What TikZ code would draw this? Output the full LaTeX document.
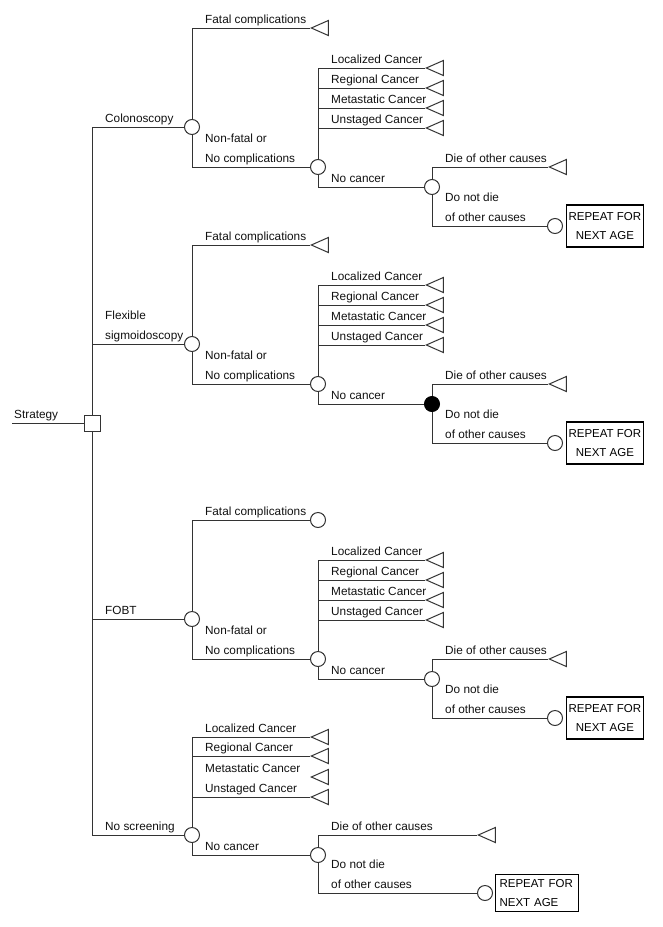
\documentclass[tikz,border=0pt]{standalone}
\usepackage{fontspec}
\setmainfont{Liberation Sans}
\usetikzlibrary{shapes.geometric,positioning}

\definecolor{treeLine}{HTML}{333333}
\definecolor{treeText}{HTML}{111111}

\tikzset{
    % Node types
    decision/.style={rectangle, draw=treeLine, fill=white, minimum size=16pt, inner sep=0pt, line width=1pt},
    chance/.style={circle, draw=treeLine, fill=white, minimum size=15pt, inner sep=0pt, line width=1pt},
    chanceFilled/.style={chance, fill=black, draw=black},
    terminal/.style={
        isosceles triangle,
        isosceles triangle stretches,
        shape border rotate=180,
        draw=treeLine,
        minimum width=15pt,
        minimum height=17pt,
        inner sep=0pt,
        line width=1pt,
        anchor=apex
    },
    repeatBox/.style={
        rectangle,
        draw=black,
        line width=1.2pt,
        minimum width=76pt,
        minimum height=42pt,
        align=center,
        inner sep=2pt,
        font=\fontsize{11.5}{19}\selectfont
    },
    repeatBoxWide/.style={repeatBox, text width=75pt, align=left, inner sep=4pt, minimum height=37pt},
    % Branch labels
    branchLabel/.style={anchor=base west, inner sep=0pt, align=left, text=treeText, font=\fontsize{11.8}{20}\selectfont},
    % Connectors
    branch/.style={draw=treeLine, line width=1pt}
}

\begin{document}
\begin{tikzpicture}[x=1pt, y=-1pt]
\useasboundingbox (0,0) rectangle (663,927);

% Root decision
\coordinate (start) at (12,423);
\node[decision] (strat) at (92,423) {};
\node[branchLabel] (stratLbl) at (14,418) {Strategy};
\draw[branch] (start) -- (strat);

% ---- Colonoscopy ----
\node[chance] (col) at (192,127) {};
\node[branchLabel] at (105,122) {Colonoscopy};
\node[terminal] (col-fatal) at (310,28) {};
\node[branchLabel] at (205,23) {Fatal complications};
\node[chance] (col-nf) at (318,167) {};
\node[branchLabel] at (205,162) {Non-fatal or\\No complications};
\node[terminal] (col-loc) at (425,68) {};
\node[terminal] (col-reg) at (425,88) {};
\node[terminal] (col-met) at (425,108) {};
\node[terminal] (col-uns) at (425,128) {};
\node[branchLabel] at (331,63) {Localized Cancer};
\node[branchLabel] at (331,83) {Regional Cancer};
\node[branchLabel] at (331,103) {Metastatic Cancer};
\node[branchLabel] at (331,123) {Unstaged Cancer};
\node[chance] (col-nc) at (432,187) {};
\node[branchLabel] at (331,182) {No cancer};
\node[terminal] (col-die) at (548,167) {};
\node[branchLabel] at (445,162) {Die of other causes};
\node[chance] (col-live) at (555,226) {};
\node[branchLabel] at (445,221) {Do not die\\of other causes};
\node[repeatBox, right=3pt of col-live] (col-rep) {REPEAT FOR\\NEXT AGE};

\draw[branch] (strat) |- (col);
\draw[branch] (col) |- (col-fatal.apex);
\draw[branch] (col) |- (col-nf);
\draw[branch] (col-nf) |- (col-loc.apex);
\draw[branch] (col-nf) |- (col-reg.apex);
\draw[branch] (col-nf) |- (col-met.apex);
\draw[branch] (col-nf) |- (col-uns.apex);
\draw[branch] (col-nf) |- (col-nc);
\draw[branch] (col-nc) |- (col-die.apex);
\draw[branch] (col-nc) |- (col-live);

% ---- Flexible sigmoidoscopy ----
\node[chance] (sig) at (192,344) {};
\node[branchLabel] at (105,339) {Flexible\\sigmoidoscopy};
\node[terminal] (sig-fatal) at (310,245) {};
\node[branchLabel] at (205,240) {Fatal complications};
\node[chance] (sig-nf) at (318,384) {};
\node[branchLabel] at (205,379) {Non-fatal or\\No complications};
\node[terminal] (sig-loc) at (425,285) {};
\node[terminal] (sig-reg) at (425,305) {};
\node[terminal] (sig-met) at (425,325) {};
\node[terminal] (sig-uns) at (425,345) {};
\node[branchLabel] at (331,280) {Localized Cancer};
\node[branchLabel] at (331,300) {Regional Cancer};
\node[branchLabel] at (331,320) {Metastatic Cancer};
\node[branchLabel] at (331,340) {Unstaged Cancer};
\node[chanceFilled] (sig-nc) at (432,404) {};
\node[branchLabel] at (331,399) {No cancer};
\node[terminal] (sig-die) at (548,384) {};
\node[branchLabel] at (445,379) {Die of other causes};
\node[chance] (sig-live) at (555,443) {};
\node[branchLabel] at (445,438) {Do not die\\of other causes};
\node[repeatBox, right=3pt of sig-live] (sig-rep) {REPEAT FOR\\NEXT AGE};

\draw[branch] (strat) |- (sig);
\draw[branch] (sig) |- (sig-fatal.apex);
\draw[branch] (sig) |- (sig-nf);
\draw[branch] (sig-nf) |- (sig-loc.apex);
\draw[branch] (sig-nf) |- (sig-reg.apex);
\draw[branch] (sig-nf) |- (sig-met.apex);
\draw[branch] (sig-nf) |- (sig-uns.apex);
\draw[branch] (sig-nf) |- (sig-nc);
\draw[branch] (sig-nc) |- (sig-die.apex);
\draw[branch] (sig-nc) |- (sig-live);

% ---- FOBT ----
\node[chance] (fobt) at (192,619) {};
\node[branchLabel] at (105,614) {FOBT};
\node[chance] (fobt-fatal) at (318,520) {};
\node[branchLabel] at (205,515) {Fatal complications};
\node[chance] (fobt-nf) at (318,659) {};
\node[branchLabel] at (205,654) {Non-fatal or\\No complications};
\node[terminal] (fobt-loc) at (425,560) {};
\node[terminal] (fobt-reg) at (425,580) {};
\node[terminal] (fobt-met) at (425,600) {};
\node[terminal] (fobt-uns) at (425,620) {};
\node[branchLabel] at (331,555) {Localized Cancer};
\node[branchLabel] at (331,575) {Regional Cancer};
\node[branchLabel] at (331,595) {Metastatic Cancer};
\node[branchLabel] at (331,615) {Unstaged Cancer};
\node[chance] (fobt-nc) at (432,679) {};
\node[branchLabel] at (331,674) {No cancer};
\node[terminal] (fobt-die) at (548,659) {};
\node[branchLabel] at (445,654) {Die of other causes};
\node[chance] (fobt-live) at (555,718) {};
\node[branchLabel] at (445,713) {Do not die\\of other causes};
\node[repeatBox, right=3pt of fobt-live] (fobt-rep) {REPEAT FOR\\NEXT AGE};

\draw[branch] (strat) |- (fobt);
\draw[branch] (fobt) |- (fobt-fatal);
\draw[branch] (fobt) |- (fobt-nf);
\draw[branch] (fobt-nf) |- (fobt-loc.apex);
\draw[branch] (fobt-nf) |- (fobt-reg.apex);
\draw[branch] (fobt-nf) |- (fobt-met.apex);
\draw[branch] (fobt-nf) |- (fobt-uns.apex);
\draw[branch] (fobt-nf) |- (fobt-nc);
\draw[branch] (fobt-nc) |- (fobt-die.apex);
\draw[branch] (fobt-nc) |- (fobt-live);

% ---- No screening ----
\node[chance] (none) at (192,835) {};
\node[branchLabel] at (105,830) {No screening};
\node[terminal] (none-loc) at (310,737) {};
\node[terminal] (none-reg) at (310,756) {};
\node[terminal] (none-met) at (310,777) {};
\node[terminal] (none-uns) at (310,797) {};
\node[branchLabel] at (205,732) {Localized Cancer};
\node[branchLabel] at (205,751) {Regional Cancer};
\node[branchLabel] at (205,772) {Metastatic Cancer};
\node[branchLabel] at (205,792) {Unstaged Cancer};
\node[chance] (none-nc) at (318,855) {};
\node[branchLabel] at (205,850) {No cancer};
\node[terminal] (none-die) at (477,835) {};
\node[branchLabel] at (331,830) {Die of other causes};
\node[chance] (none-live) at (485,893) {};
\node[branchLabel] at (331,888) {Do not die\\of other causes};
\node[repeatBoxWide, right=2pt of none-live] (none-rep) {REPEAT FOR\\NEXT AGE};

\draw[branch] (strat) |- (none);
\draw[branch] (none) |- (none-loc.apex);
\draw[branch] (none) |- (none-reg.apex);
\draw[branch] (none) |- (none-uns.apex);
\draw[branch] (none) |- (none-nc);
\draw[branch] (none-nc) |- (none-die.apex);
\draw[branch] (none-nc) |- (none-live);
\end{tikzpicture}
\end{document}
